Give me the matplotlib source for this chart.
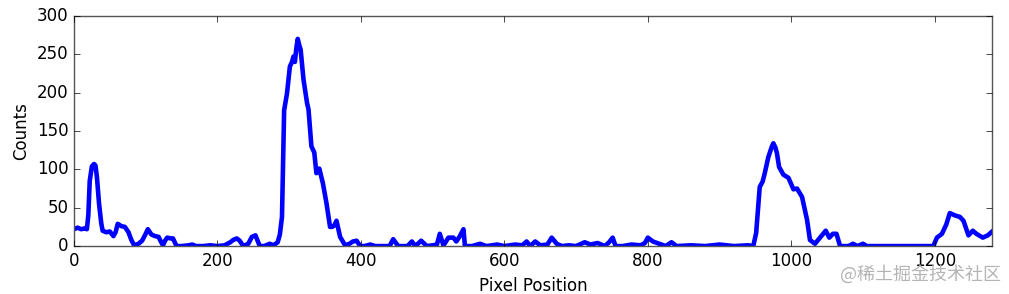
import matplotlib
matplotlib.use("Agg")
import matplotlib.pyplot as plt

# histogram of pixel positions
pos = [0, 5, 10, 15, 18, 20, 22, 25, 28, 30, 32, 35, 38, 40, 45, 50, 55, 58, 61, 66, 71,
       76, 80, 84, 90, 95, 100, 103, 108, 113, 118, 120, 124, 127, 130, 135, 138, 143,
       150, 160, 165, 170, 180, 190, 200, 210, 218, 222, 227, 231, 236, 243, 248, 253, 259,
       265, 273, 278, 284, 287, 290, 293, 297, 301, 304, 306, 308, 310, 312, 314, 316, 320,
       325, 327, 331, 335, 338, 342, 347, 352, 357, 360, 363, 366, 371, 378, 384, 389, 394,
       399, 405, 413, 420, 440, 445, 452, 465, 471, 476, 484, 492, 500, 506, 510, 515, 518,
       522, 529, 533, 538, 543, 545, 555, 566, 575, 590, 600, 615, 625, 631, 636, 643, 650,
       660, 666, 673, 680, 690, 700, 712, 720, 730, 740, 746, 751, 755, 765, 777, 790, 796,
       800, 807, 816, 825, 833, 840, 860, 880, 900, 920, 940, 947, 951, 956, 960, 963, 968,
       973, 975, 978, 980, 983, 989, 996, 1003, 1008, 1015, 1022, 1026, 1033, 1040, 1048,
       1053, 1058, 1063, 1068, 1080, 1086, 1092, 1100, 1105, 1150, 1198, 1203, 1210, 1216,
       1221, 1228, 1235, 1240, 1247, 1253, 1258, 1267, 1274, 1280]
counts = [22, 24, 22, 23, 22, 40, 85, 104, 107, 105, 90, 55, 30, 20, 18, 19, 13, 18, 29, 26, 25,
          18, 8, 1, 3, 7, 16, 22, 15, 13, 12, 8, 1, 7, 11, 10, 10, 0,
          0, 1, 2, 0, 0, 1, 0, 1, 5, 8, 10, 7, 0, 3, 12, 14, 0,
          0, 3, 1, 5, 15, 38, 177, 199, 234, 240, 247, 240, 258, 270, 262, 256, 217,
          186, 178, 130, 122, 95, 101, 82, 56, 25, 25, 27, 33, 12, 1, 3, 6, 7,
          0, 0, 2, 0, 0, 9, 0, 0, 6, 0, 7, 0, 1, 2, 16, 1, 5,
          11, 11, 6, 13, 22, 0, 0, 3, 0, 2, 0, 2, 1, 6, 0, 6, 1,
          2, 11, 3, 0, 1, 0, 5, 2, 4, 0, 5, 11, 0, 0, 2, 1, 4,
          11, 6, 3, 0, 5, 0, 1, 0, 2, 0, 1, 0, 17, 77, 84, 95, 116,
          130, 134, 128, 121, 103, 93, 89, 74, 75, 64, 34, 8, 3, 11, 20,
          11, 16, 16, 0, 0, 3, 0, 3, 0, 0, 0, 11, 16, 28,
          43, 40, 38, 33, 14, 20, 16, 11, 14, 19]

plt.style.use("classic")
plt.rcParams["font.family"] = ["DejaVu Sans"]

fig = plt.figure(figsize=(10.09, 2.94), dpi=100, facecolor="white")
ax = fig.add_axes([0.0733, 0.163, 0.910, 0.783])
ax.plot(pos, counts, color="b", linewidth=3.3)
ax.set_xlim(0, 1280)
ax.set_ylim(0, 300)
ax.set_xticks([0, 200, 400, 600, 800, 1000, 1200])
ax.set_yticks([0, 50, 100, 150, 200, 250, 300])
ax.set_xlabel("Pixel Position", fontsize=12)
ax.set_ylabel("Counts", fontsize=12)
ax.tick_params(labelsize=12)
for s in ax.spines.values():
    s.set_color("#555555")

# watermark
fig.text(0.992, 0.035, "@稀土掘金技术社区", ha="right", va="bottom", fontsize=13,
         color="#b4b4b4", family=["Noto Sans CJK SC", "DejaVu Sans"])

fig.savefig("out.png", dpi=100, facecolor="white")
